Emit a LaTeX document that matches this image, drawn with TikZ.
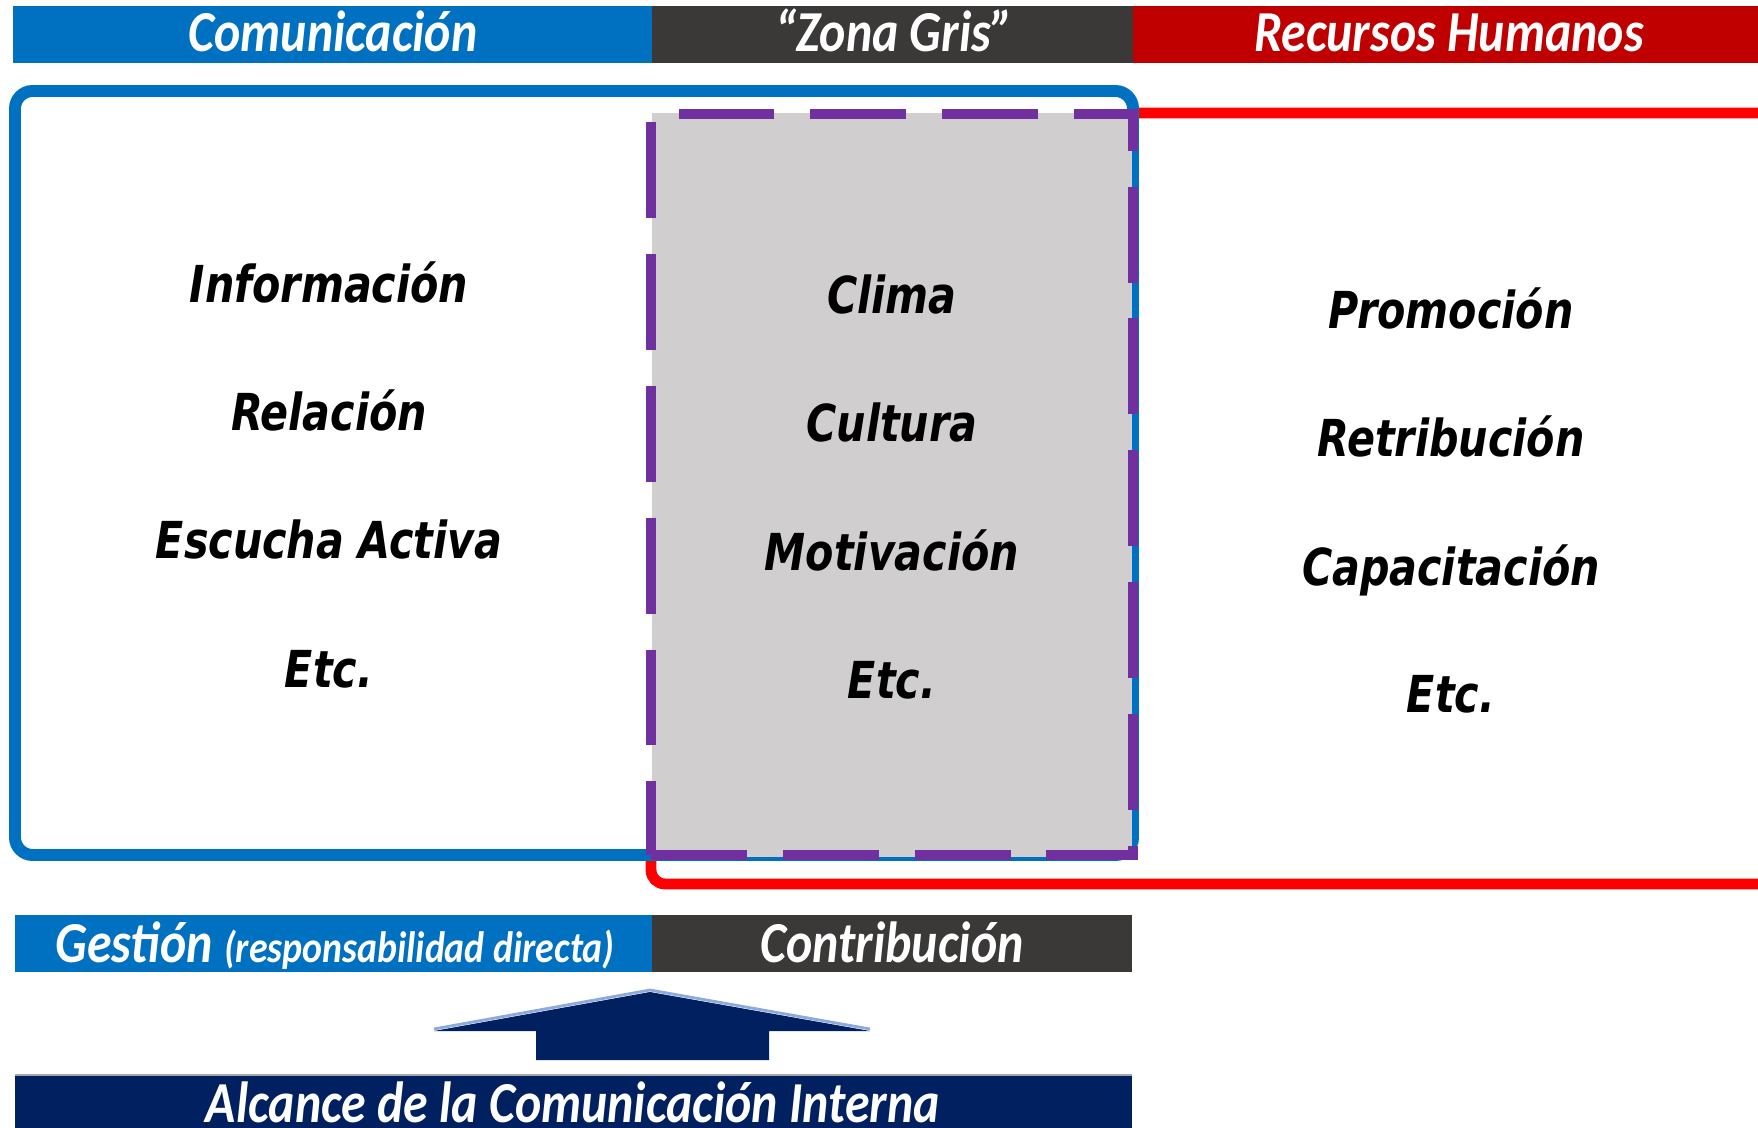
\documentclass[tikz,border=0pt]{standalone}
\usepackage{fontspec}
\newfontfamily\headfont{Carlito}[FakeStretch=0.86]
\newfontfamily\itemfont{DejaVu Sans Condensed}[FakeStretch=0.9]
\usetikzlibrary{positioning}

\definecolor{comblue}{HTML}{0070C0}
\definecolor{zonedark}{HTML}{3B3838}
\definecolor{rhred}{HTML}{C00000}
\definecolor{rhline}{HTML}{FF0000}
\definecolor{zonepurple}{HTML}{7030A0}
\definecolor{zonefill}{HTML}{D0CECE}
\definecolor{cinavy}{HTML}{002060}
\definecolor{cilight}{HTML}{8EA9DB}

\begin{document}
\begin{tikzpicture}[%
  x=0.1mm, y=-0.1mm,
  headtext/.style={anchor=base, text=white, inner sep=0pt,
    font=\headfont\bfseries\itshape\fontsize{16.5}{19}\selectfont},
  itemtext/.style={anchor=base, inner sep=0pt,
    font=\itemfont\bfseries\itshape\fontsize{14.5}{18}\selectfont},
]

  \useasboundingbox (0,0) rectangle (1758,1128);

  \fill[comblue] (13,6) rectangle (652,63);
  \fill[zonedark] (652,6) rectangle (1133,63);
  \fill[rhred] (1133,6) rectangle (1758,63);

  \node[headtext] (comHead) at (333,52) {Comunicación};
  \node[headtext] (zonaHead) at (894,52) {“Zona Gris”};
  \node[headtext] (rrhhHead) at (1449,52) {Recursos Humanos};

  \draw[rhline, line width=3.1pt, rounded corners=4]
    (1780,113) -- (651,113) -- (651,884) -- (1780,884);
  \draw[comblue, fill=white, line width=3.4pt, rounded corners=5]
    (15,91) rectangle (1133,855);

  \fill[zonefill] (652,113) rectangle (1132,857);
  \draw[zonepurple, line width=3.1pt,
    dash pattern=on 27.3pt off 10.2pt]
    (651,855) -- (1133,855) -- (1133,114) -- (651,114) -- cycle;

  \node[itemtext] (info) at (329,303) {Información};
  \node[itemtext] (rela) at (329,431) {Relación};
  \node[itemtext] (escu) at (329,559) {Escucha Activa};
  \node[itemtext] (etcA) at (329,687) {Etc.};

  \node[itemtext] (clima) at (892,314) {Clima};
  \node[itemtext] (cultura) at (892,442) {Cultura};
  \node[itemtext] (motiv) at (892,570) {Motivación};
  \node[itemtext] (etcB) at (892,698) {Etc.};

  \node[itemtext] (promo) at (1451,329) {Promoción};
  \node[itemtext] (retri) at (1451,457) {Retribución};
  \node[itemtext] (capac) at (1451,585) {Capacitación};
  \node[itemtext] (etcC) at (1451,713) {Etc.};

  \fill[comblue] (15,915) rectangle (652,972);
  \fill[zonedark] (652,915) rectangle (1132,972);

  \node[headtext] (gestion) at (335,962)
    {Gestión {\fontsize{12.5}{15}\selectfont(responsabilidad directa)}};
  \node[headtext] (contrib) at (892,962) {Contribución};

  \fill[cinavy] (536,1060) -- (536,1031) -- (434,1031) -- (650,992)
    -- (870,1031) -- (769,1031) -- (769,1060) -- cycle;
  \draw[cilight, line width=0.8pt] (434,1029) -- (650,990) -- (870,1029);

  \fill[cinavy] (15,1075) rectangle (1132,1140);
  \draw[gray!70, line width=0.6pt] (15,1075) -- (1132,1075);
  \node[headtext] (alcance) at (573,1122) {Alcance de la Comunicación Interna};

\end{tikzpicture}
\end{document}
